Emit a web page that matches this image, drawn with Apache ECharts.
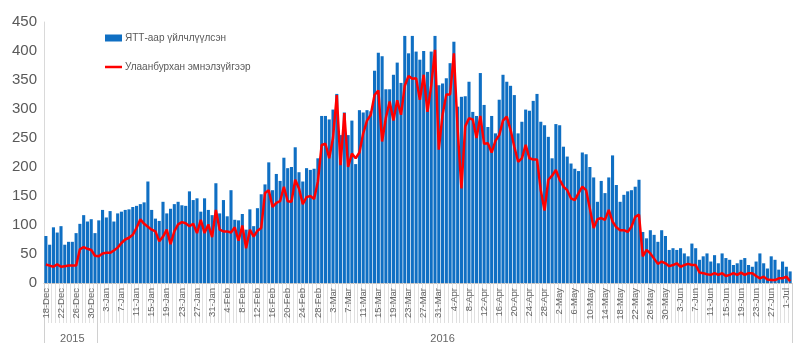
<!DOCTYPE html>
<html>
<head>
<meta charset="utf-8">
<script src="https://cdn.jsdelivr.net/npm/echarts@6/dist/echarts.min.js"></script>
<style>html,body{margin:0;padding:0;background:#fff}#c{width:800px;height:359px}</style>
</head>
<body>
<div id="c"></div>
<script>
const categories = [
"18-Dec","19-Dec","20-Dec","21-Dec","22-Dec","23-Dec","24-Dec","25-Dec","26-Dec","27-Dec","28-Dec","29-Dec","30-Dec","31-Dec",
"1-Jan","2-Jan","3-Jan","4-Jan","5-Jan","6-Jan","7-Jan","8-Jan","9-Jan","10-Jan","11-Jan","12-Jan","13-Jan","14-Jan","15-Jan","16-Jan","17-Jan","18-Jan","19-Jan","20-Jan","21-Jan","22-Jan","23-Jan","24-Jan","25-Jan","26-Jan","27-Jan","28-Jan","29-Jan","30-Jan","31-Jan",
"1-Feb","2-Feb","3-Feb","4-Feb","5-Feb","6-Feb","7-Feb","8-Feb","9-Feb","10-Feb","11-Feb","12-Feb","13-Feb","14-Feb","15-Feb","16-Feb","17-Feb","18-Feb","19-Feb","20-Feb","21-Feb","22-Feb","23-Feb","24-Feb","25-Feb","26-Feb","27-Feb","28-Feb","29-Feb",
"1-Mar","2-Mar","3-Mar","4-Mar","5-Mar","6-Mar","7-Mar","8-Mar","9-Mar","10-Mar","11-Mar","12-Mar","13-Mar","14-Mar","15-Mar","16-Mar","17-Mar","18-Mar","19-Mar","20-Mar","21-Mar","22-Mar","23-Mar","24-Mar","25-Mar","26-Mar","27-Mar","28-Mar","29-Mar","30-Mar","31-Mar",
"1-Apr","2-Apr","3-Apr","4-Apr","5-Apr","6-Apr","7-Apr","8-Apr","9-Apr","10-Apr","11-Apr","12-Apr","13-Apr","14-Apr","15-Apr","16-Apr","17-Apr","18-Apr","19-Apr","20-Apr","21-Apr","22-Apr","23-Apr","24-Apr","25-Apr","26-Apr","27-Apr","28-Apr","29-Apr","30-Apr",
"1-May","2-May","3-May","4-May","5-May","6-May","7-May","8-May","9-May","10-May","11-May","12-May","13-May","14-May","15-May","16-May","17-May","18-May","19-May","20-May","21-May","22-May","23-May","24-May","25-May","26-May","27-May","28-May","29-May","30-May","31-May",
"1-Jun","2-Jun","3-Jun","4-Jun","5-Jun","6-Jun","7-Jun","8-Jun","9-Jun","10-Jun","11-Jun","12-Jun","13-Jun","14-Jun","15-Jun","16-Jun","17-Jun","18-Jun","19-Jun","20-Jun","21-Jun","22-Jun","23-Jun","24-Jun","25-Jun","26-Jun","27-Jun","28-Jun","29-Jun","30-Jun",
"1-Jul","2-Jul"
];

const yttValues = [
81,66,96,87,98,66,71,71,86,102,117,106,110,86,108,126,113,124,106,120,123,126,127,131,
133,136,139,175,126,111,107,140,120,128,136,140,134,133,158,143,146,123,146,126,117,172,120,143,115,160,
109,108,119,92,127,98,129,153,170,208,160,188,176,216,198,200,234,191,175,198,195,197,215,288,288,282,
299,326,255,294,255,280,205,298,294,298,296,366,397,391,334,334,359,380,345,426,396,426,399,
385,400,364,399,426,341,344,353,379,416,304,321,322,347,295,288,362,307,269,288,258,316,359,347,340,
324,258,278,299,297,314,326,278,272,252,215,274,272,235,218,206,197,193,225,222,200,182,140,176,155,182,220,169,140,152,158,160,166,178,
88,77,91,83,71,91,81,57,60,57,60,51,46,68,60,40,46,51,37,48,34,51,43,40,31,34,40,43,31,28,37,51,34,25,46,40,23,37,28,20
];

const clinicalValues = [
32,30,28,32,28,29,30,30,30,58,62,59,57,47,46,51,52,52,56,61,69,75,78,83,
95,110,102,97,92,89,72,80,92,67,89,101,105,103,98,102,86,109,86,101,79,126,92,89,89,87,
96,73,99,60,92,80,90,95,155,160,131,138,141,166,141,140,178,163,136,148,150,145,175,238,240,215,
250,324,203,293,200,223,215,225,258,280,290,324,332,244,285,313,280,315,290,340,357,352,353,
316,359,295,340,402,230,290,325,325,396,264,163,270,284,282,250,288,240,241,225,245,255,280,287,264,
235,209,215,238,215,213,213,160,125,178,185,195,178,166,160,146,143,155,166,160,128,95,110,112,109,126,106,96,91,91,88,97,114,118,
46,57,51,42,33,37,34,29,31,34,28,31,33,31,31,18,17,15,14,17,14,17,12,14,17,14,18,14,17,17,12,8,11,6,5,5,8,8,11,3
];

const seriesNames = ["ЯТТ-аар үйлчлүүлсэн", "Улаанбурхан эмнэлзүйгээр"];
const yearLabels = ["2015", "2016"];
const yearLabelIndex = [7, 105];
const yearBoundaryIndex = [0, 14];

const font = "'Liberation Sans', Arial, sans-serif";
const chart = echarts.init(document.getElementById('c'), null, {renderer: 'canvas'});
chart.setOption({
  animation: false,
  backgroundColor: '#fff',
  grid: {left: 44, right: 8, top: 22, bottom: 76, containLabel: false},
  legend: {
    orient: 'vertical', left: 100, top: 28, itemGap: 19,
    itemWidth: 17, itemHeight: 7,
    textStyle: {fontFamily: font, fontSize: 10, color: '#595959', padding: [0, 0, 0, -2]},
    data: [
      {name: seriesNames[0], icon: 'rect'},
      {name: seriesNames[1], icon: 'path://M0,0 H34 V5 H0 Z', itemStyle: {color: '#FF0000'}}
    ]
  },
  xAxis: [{
    type: 'category', data: categories, boundaryGap: true,
    axisLine: {show: true, lineStyle: {color: '#bfbfbf', width: 1}},
    axisTick: {show: true, interval: 0, length: 40, lineStyle: {color: '#e0e0e0'}},
    axisLabel: {interval: 3, rotate: 90, fontFamily: font, fontSize: 9.5, color: '#666666', margin: 5}
  }, {
    type: 'category', data: categories, boundaryGap: true, position: 'bottom',
    axisLine: {show: false},
    axisTick: {show: true, length: 60, lineStyle: {color: '#d0d0d0'},
      interval: function (idx) { return yearBoundaryIndex.indexOf(idx) >= 0; }},
    axisLabel: {fontFamily: font, fontSize: 11, color: '#666666', margin: 50,
      interval: function (idx) { return yearLabelIndex.indexOf(idx) >= 0; },
      formatter: function (v, idx) { const k = yearLabelIndex.indexOf(idx); return k >= 0 ? yearLabels[k] : ''; }}
  }],
  yAxis: {
    type: 'value', min: 0, max: 450, interval: 50,
    axisLine: {show: true, lineStyle: {color: '#d9d9d9'}},
    axisTick: {show: false},
    splitLine: {show: false},
    axisLabel: {fontFamily: font, fontSize: 15, color: '#595959', margin: 7}
  },
  series: [{
    name: seriesNames[0], type: 'bar', data: yttValues,
    barCategoryGap: '18%',
    itemStyle: {color: '#0F6FC3'}
  }, {
    name: seriesNames[1], type: 'line', data: clinicalValues,
    symbol: 'none', showSymbol: false,
    lineStyle: {color: '#FF0000', width: 2.5},
    itemStyle: {color: '#FF0000'}
  }]
});
</script>
</body>
</html>
